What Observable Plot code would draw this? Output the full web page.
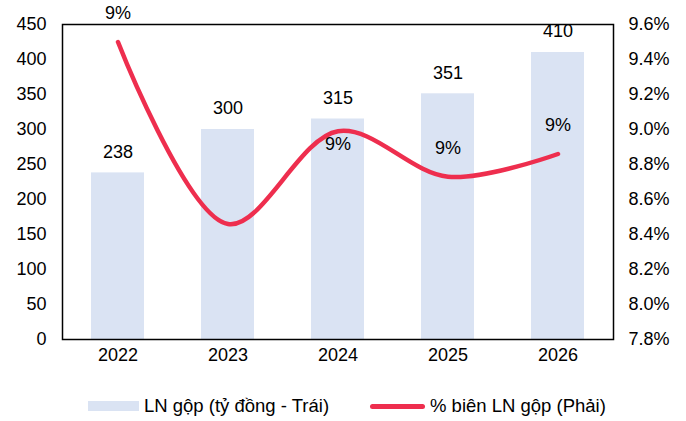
<!DOCTYPE html>
<html>
<head>
<meta charset="utf-8">
<script src="https://cdn.jsdelivr.net/npm/d3@7"></script>
<script src="https://cdn.jsdelivr.net/npm/@observablehq/plot@0.6"></script>
<style>
  html, body { margin: 0; padding: 0; background: #fff; }
  body { width: 686px; height: 421px; overflow: hidden; font-family: "Liberation Sans", Arial, sans-serif; }
  #legend { height: 41px; position: relative; font-size: 18.5px; color: #000; }
  .item { position: absolute; top: 15px; display: flex; align-items: center; line-height: 22px; }
  .sw-bar { width: 51px; height: 10px; background: #dae3f3; margin-right: 5px; }
  .sw-line { width: 55px; height: 5px; border-radius: 3px; background: #ee2e4e; margin-right: 5px; }
</style>
</head>
<body>
<div id="chart"></div>
<div id="legend">
  <div class="item" style="left:88px"><div class="sw-bar"></div><span id="l1"></span></div>
  <div class="item" style="left:370px"><div class="sw-line"></div><span id="l2"></span></div>
</div>
<script>
const years = ["2022", "2023", "2024", "2025", "2026"];
const grossProfit = [238, 300, 315, 351, 410];
const margin = [9.50, 8.46, 8.99, 8.73, 8.86];
const marginLabels = ["9%", "", "9%", "9%", "9%"];
const leftTicks = [0, 50, 100, 150, 200, 250, 300, 350, 400, 450];
const rightTicks = [7.8, 8.0, 8.2, 8.4, 8.6, 8.8, 9.0, 9.2, 9.4, 9.6];
const seriesNames = ["LN gộp (tỷ đồng - Trái)", "% biên LN gộp (Phải)"];

document.getElementById("l1").textContent = seriesNames[0];
document.getElementById("l2").textContent = seriesNames[1];

const rMin = 7.8, rMax = 9.6, lMax = 450;
const toLeft = v => (v - rMin) / (rMax - rMin) * lMax;

const data = years.map((y, i) => ({
  year: y, gp: grossProfit[i], m: margin[i], mY: toLeft(margin[i]), ml: marginLabels[i]
}));
const above = data.filter(d => d.year !== "2024" && d.ml);
const below = data.filter(d => d.year === "2024" && d.ml);

const FS = 18;
const chart = Plot.plot({
  width: 686,
  height: 380,
  marginLeft: 62,
  marginRight: 73,
  marginTop: 24,
  marginBottom: 41,
  style: { fontFamily: "Liberation Sans, Arial, sans-serif", fontSize: FS + "px", color: "#000", background: "#fff" },
  x: { domain: years, paddingInner: 0.52, paddingOuter: 0.26, label: null },
  y: { domain: [0, lMax], label: null },
  marks: [
    Plot.barY(data, { x: "year", y: "gp", fill: "#dae3f3" }),
    Plot.text(data, { x: "year", y: "gp", text: d => String(d.gp), dy: -21, fontSize: FS, fill: "#000" }),
    Plot.line(data, { x: "year", y: "mY", stroke: "#ee2e4e", strokeWidth: 4.5, curve: "catmull-rom" }),
    Plot.text(above, { x: "year", y: "mY", text: "ml", dy: -29, fontSize: FS, fill: "#000" }),
    Plot.text(below, { x: "year", y: "mY", text: "ml", dy: 13, fontSize: FS, fill: "#000" }),
    Plot.axisX({ tickSize: 0, tickPadding: 9, fontSize: FS, label: null }),
    Plot.axisY({ ticks: leftTicks, tickSize: 0, tickPadding: 16, fontSize: FS, label: null }),
    Plot.axisY(rightTicks.map(toLeft), {
      anchor: "right", tickSize: 0, tickPadding: 15, fontSize: FS, label: null,
      tickFormat: (v) => (v / lMax * (rMax - rMin) + rMin).toFixed(1) + "%"
    }),
    Plot.frame({ stroke: "#000", strokeWidth: 1.5 })
  ]
});
document.getElementById("chart").appendChild(chart);
</script>
</body>
</html>
